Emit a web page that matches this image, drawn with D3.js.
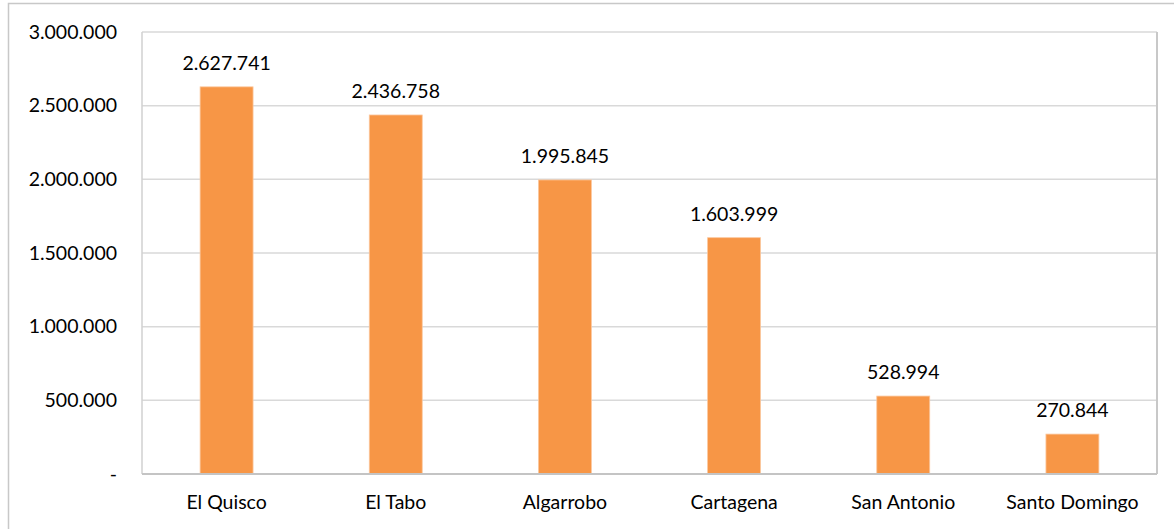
<!DOCTYPE html>
<html>
<head>
<meta charset="utf-8">
<script src="https://cdn.jsdelivr.net/npm/d3@7"></script>
<style>
  html, body { margin: 0; padding: 0; background: #fff; }
  svg { display: block; }
  text { font-family: Lato, "Open Sans", sans-serif; fill: #000; }
</style>
</head>
<body>
<script>
const categories = ["El Quisco", "El Tabo", "Algarrobo", "Cartagena", "San Antonio", "Santo Domingo"];
const values = [2627741, 2436758, 1995845, 1603999, 528994, 270844];
const yTicks = [0, 500000, 1000000, 1500000, 2000000, 2500000, 3000000];

const W = 1174, H = 529;
const plot = { left: 142, right: 1157, top: 32, bottom: 474 };
const FS = "19.5px";

const fmt = v => v === 0 ? "-" : d3.format(",")(v).replace(/,/g, ".");

const svg = d3.select("body").append("svg").attr("width", W).attr("height", H);

// outer chart frame
svg.append("rect")
  .attr("x", 8.5).attr("y", 3.5)
  .attr("width", W + 20).attr("height", H + 20)
  .attr("fill", "none").attr("stroke", "#c8c8c8").attr("stroke-width", 1.5);

const x = d3.scaleBand().domain(categories)
  .range([plot.left, plot.right])
  .paddingInner(0.687).paddingOuter(0.3435);

const y = d3.scaleLinear().domain([0, 3000000]).range([plot.bottom, plot.top]);

// gridlines
svg.append("g").selectAll("line").data(yTicks).join("line")
  .attr("x1", plot.left).attr("x2", plot.right)
  .attr("y1", d => y(d)).attr("y2", d => y(d))
  .attr("stroke", "#d9d9d9").attr("stroke-width", 1.5);

// plot area border (left/right)
svg.append("line").attr("x1", plot.left).attr("x2", plot.left)
  .attr("y1", plot.top).attr("y2", plot.bottom)
  .attr("stroke", "#d0d0d0").attr("stroke-width", 1.5);
svg.append("line").attr("x1", plot.right).attr("x2", plot.right)
  .attr("y1", plot.top).attr("y2", plot.bottom)
  .attr("stroke", "#c8c8c8").attr("stroke-width", 2);

// y axis labels
const yAxis = d3.axisLeft(y).tickValues(yTicks).tickFormat(fmt).tickSize(0).tickPadding(25);
const gy = svg.append("g").attr("transform", `translate(${plot.left},0)`).call(yAxis);
gy.select(".domain").remove();
gy.selectAll("text").style("font-family", "Lato, sans-serif").style("font-size", FS).attr("fill", "#000");

// bars
svg.append("g").selectAll("rect").data(values).join("rect")
  .attr("x", (d, i) => x(categories[i]))
  .attr("width", x.bandwidth())
  .attr("y", d => y(d))
  .attr("height", d => y(0) - y(d))
  .attr("fill", "#F79646")
  .attr("stroke", "#fbc79e").attr("stroke-width", 0.8);

// baseline
svg.append("line").attr("x1", plot.left).attr("x2", plot.right)
  .attr("y1", y(0)).attr("y2", y(0))
  .attr("stroke", "#c4c4c4").attr("stroke-width", 2);

// value labels
svg.append("g").selectAll("text").data(values).join("text")
  .attr("x", (d, i) => x(categories[i]) + x.bandwidth() / 2)
  .attr("y", d => y(d) - 17)
  .attr("text-anchor", "middle")
  .style("font-size", FS)
  .text(fmt);

// x axis labels
const xAxis = d3.axisBottom(x).tickSize(0).tickPadding(21);
const gx = svg.append("g").attr("transform", `translate(0,${plot.bottom})`).call(xAxis);
gx.select(".domain").remove();
gx.selectAll("text").style("font-family", "Lato, sans-serif").style("font-size", FS).attr("fill", "#000");
</script>
</body>
</html>
